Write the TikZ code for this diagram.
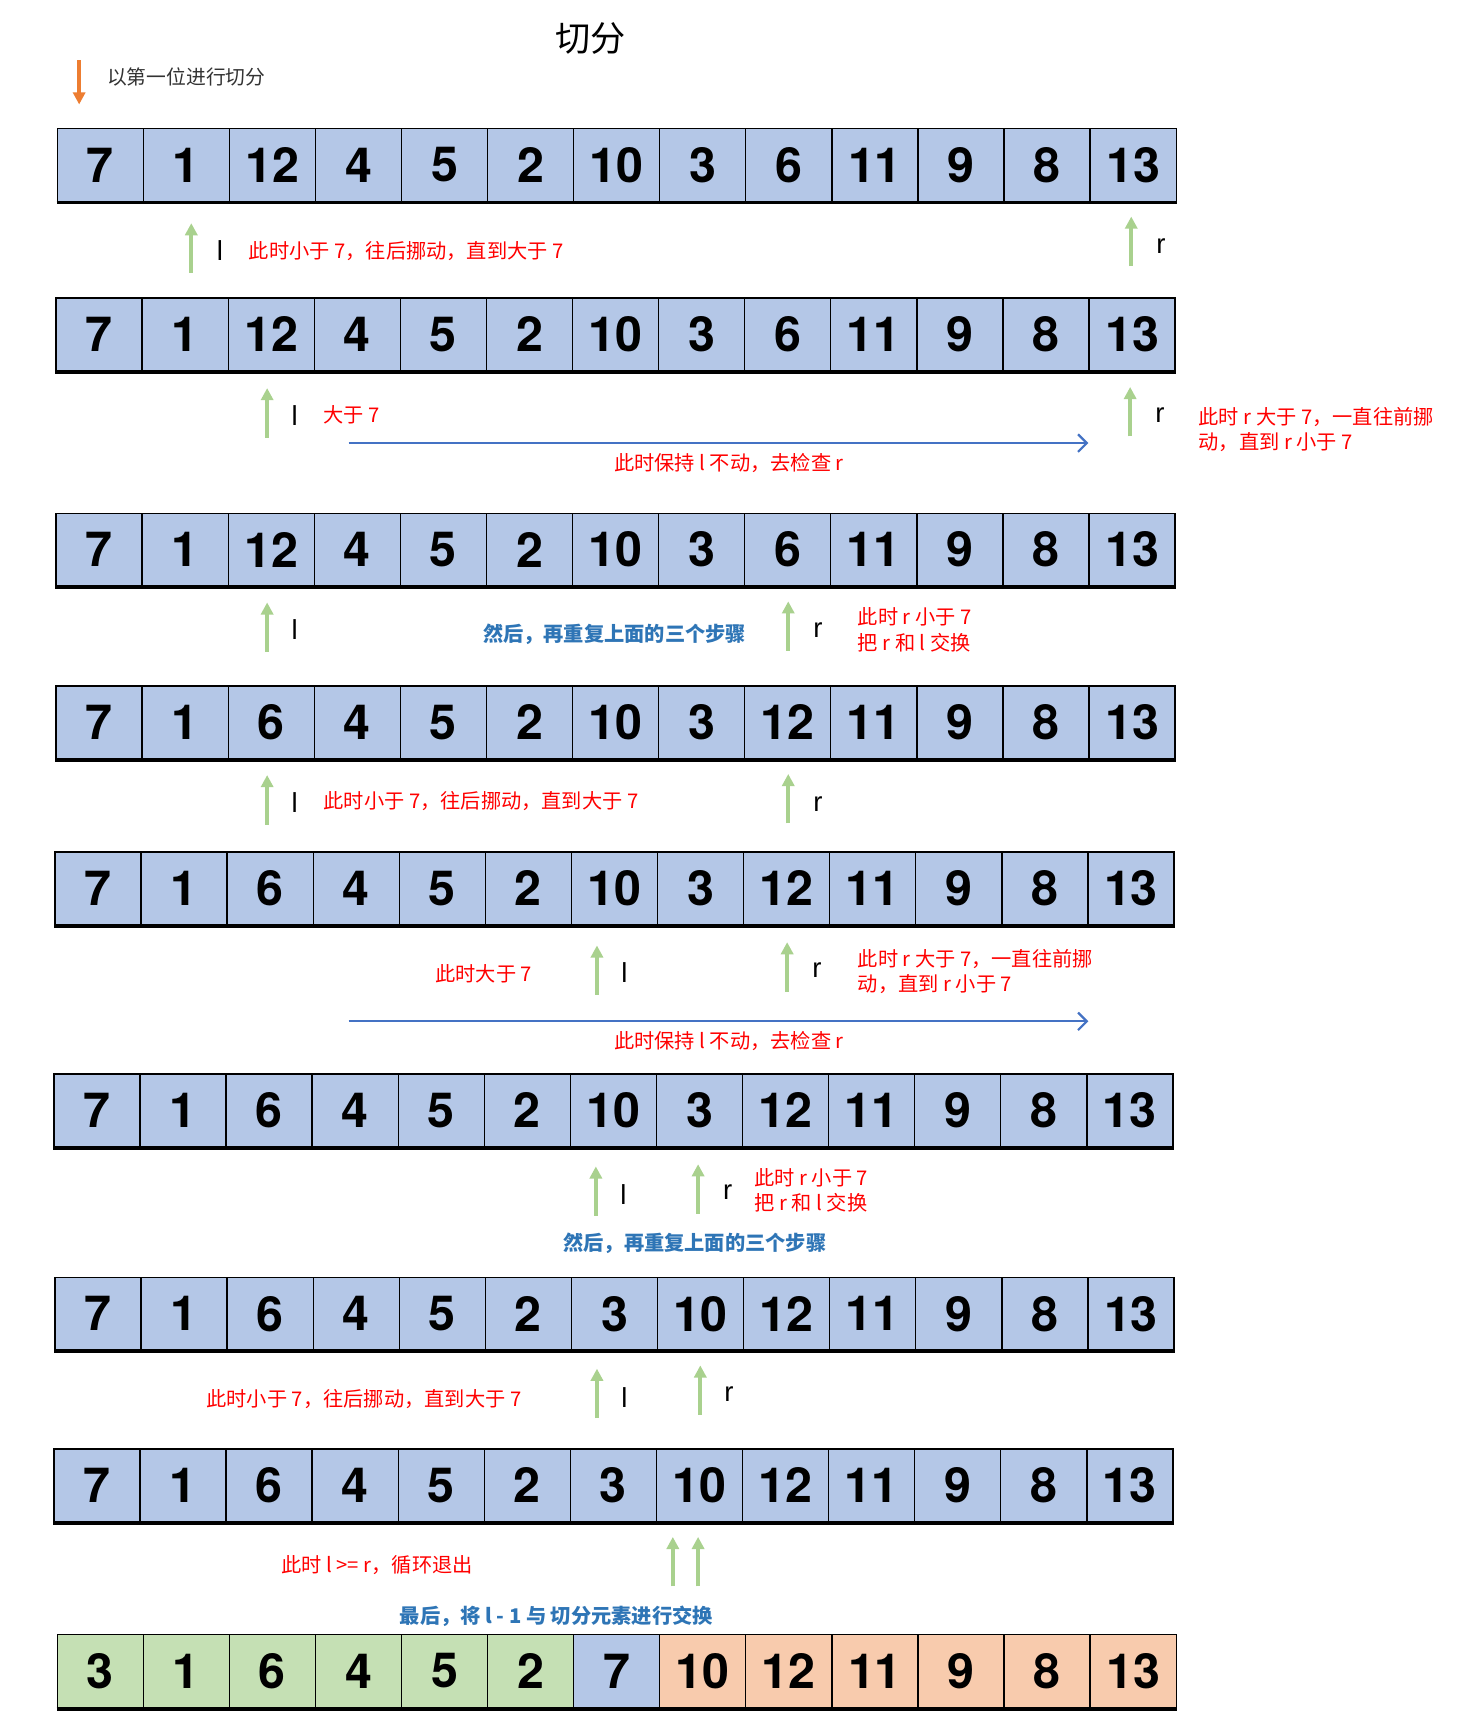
\documentclass[tikz,border=0pt]{standalone}
\usepackage{fontspec}
\setmainfont{Liberation Sans}
\newfontfamily\cjk{Noto Sans CJK SC}
\newfontfamily\digits{TeX Gyre Heros}
\usetikzlibrary{arrows.meta}

\definecolor{cellblue}{HTML}{B4C7E7}
\definecolor{cellgreen}{HTML}{C5E0B4}
\definecolor{cellpeach}{HTML}{F8CBAD}
\definecolor{ptrgreen}{HTML}{A9D18E}
\definecolor{ptrorange}{HTML}{ED7D31}
\definecolor{lineblue}{HTML}{4472C4}
\definecolor{noteblue}{HTML}{2E75B6}

\tikzset{
cell/.style={rectangle,minimum width=39.15pt,minimum height=33pt,inner sep=0pt,draw=black,line width=0.6pt,fill=cellblue,font=\digits\fontsize{22}{24}\selectfont\bfseries},
ptr/.style={draw=ptrgreen,line width=1.75pt,-{Triangle[length=5.5pt,width=5.5pt]}},
ptrlabel/.style={font=\fontsize{12.5}{14}\selectfont,inner sep=0pt},
note/.style={font=\cjk\fontsize{9.2}{11.5}\selectfont,text=red,inner sep=0pt,align=left},
bluenote/.style={font=\cjk\bfseries\fontsize{9.2}{11.5}\selectfont,text=noteblue,inner sep=0pt},
scan/.style={draw=lineblue,line width=1pt,-{Straight Barb[length=4pt,width=8pt]}}
}

\begin{document}
\begin{tikzpicture}[x=0.5pt,y=-0.5pt]
\fill[white] (0,0) rectangle (1330,1570);
\useasboundingbox (0,0) rectangle (1330,1570);

% title and legend
\node[font=\cjk\fontsize{16}{18}\selectfont] (title) at (537,35) {切分};
\coordinate (legb) at (72,55);
\coordinate (lege) at (72,95);
\draw[draw=ptrorange,line width=1.75pt,-{Triangle[length=5.5pt,width=5.5pt]}] (legb) -- (lege);
\node[anchor=west,inner sep=0pt,font=\cjk\fontsize{9}{11}\selectfont,text=black!80] (legend) at (97,70) {以第一位进行切分};

% the arrays
\foreach \row/\xo/\yt/\vals in {
1/52/117/{7,1,12,4,5,2,10,3,6,11,9,8,13},
2/51/271/{7,1,12,4,5,2,10,3,6,11,9,8,13},
3/51/467/{7,1,12,4,5,2,10,3,6,11,9,8,13},
4/51/624/{7,1,6,4,5,2,10,3,12,11,9,8,13},
5/50/775/{7,1,6,4,5,2,10,3,12,11,9,8,13},
6/49/977/{7,1,6,4,5,2,10,3,12,11,9,8,13},
7/50/1162/{7,1,6,4,5,2,3,10,12,11,9,8,13},
8/49/1318/{7,1,6,4,5,2,3,10,12,11,9,8,13}}{
\foreach \v [count=\i from 0] in \vals
\node[cell] (r\row-\i) at (\xo+39.15+\i*78.3,\yt+33) {\v};
\draw[line width=1.5pt] ([yshift=-0.4pt]r\row-0.south west) -- ([yshift=-0.4pt]r\row-12.south east);
}
\foreach \v/\f [count=\i from 0] in {3/cellgreen,1/cellgreen,6/cellgreen,4/cellgreen,5/cellgreen,2/cellgreen,7/cellblue,10/cellpeach,12/cellpeach,11/cellpeach,9/cellpeach,8/cellpeach,13/cellpeach}
\node[cell,fill=\f] (r9-\i) at (52+39.15+\i*78.3,1487+33) {\v};
\draw[line width=1.5pt] ([yshift=-0.4pt]r9-0.south west) -- ([yshift=-0.4pt]r9-12.south east);

% l and r pointers
\foreach \n/\x/\yb in {1l/174/248,1r/1029/242,2l/243/398,2r/1028/397,3l/243/593,3r/717/592,4l/243/750,4r/717/749,5l/543/905,5r/716/902,6l/542/1106,6r/635/1104,7l/543/1290,7r/637/1287,8l/612/1443,8r/635/1443}{
\coordinate (p\n-b) at (\x,\yb);
\coordinate (p\n-t) at (\x,\yb-45);
\draw[ptr] (p\n-b) -- (p\n-t);
}
\node[ptrlabel] (l1) at (200,228) {l};
\node[ptrlabel] (r1) at (1056,224) {r};
\node[ptrlabel] (l2) at (268,378) {l};
\node[ptrlabel] (r2) at (1055,378) {r};
\node[ptrlabel] (l3) at (268,573) {l};
\node[ptrlabel] (r3) at (744,573) {r};
\node[ptrlabel] (l4) at (268,730) {l};
\node[ptrlabel] (r4) at (744,731) {r};
\node[ptrlabel] (l5) at (568,885) {l};
\node[ptrlabel] (r5) at (743,882) {r};
\node[ptrlabel] (l6) at (567,1087) {l};
\node[ptrlabel] (r6) at (662,1084) {r};
\node[ptrlabel] (l7) at (568,1271) {l};
\node[ptrlabel] (r7) at (663,1268) {r};

% scanning arrows
\coordinate (chk1a) at (317,403);
\coordinate (chk1b) at (990,403);
\draw[scan] (chk1a) -- (chk1b);
\coordinate (chk2a) at (317,929);
\coordinate (chk2b) at (990,929);
\draw[scan] (chk2a) -- (chk2b);

% notes
\node[note,anchor=west] (n1) at (226,228) {此时小于 7，往后挪动，直到大于 7};
\node[note,anchor=west] (n2) at (294,377) {大于 7};
\node[note,anchor=west] (n3) at (1090,391) {此时 r 大于 7，一直往前挪\\动，直到 r 小于 7};
\node[note] (n4) at (663,421) {此时保持 l 不动，去检查 r};
\node[bluenote] (n5) at (559,577) {然后，再重复上面的三个步骤};
\node[note,anchor=west] (n6) at (780,573) {此时 r 小于 7\\把 r 和 l 交换};
\node[note,anchor=west] (n7) at (294,729) {此时小于 7，往后挪动，直到大于 7};
\node[note] (n8) at (440,886) {此时大于 7};
\node[note,anchor=west] (n9) at (780,884) {此时 r 大于 7，一直往前挪\\动，直到 r 小于 7};
\node[note] (n10) at (663,947) {此时保持 l 不动，去检查 r};
\node[note,anchor=west] (n11) at (686,1083) {此时 r 小于 7\\把 r 和 l 交换};
\node[bluenote] (n12) at (632,1131) {然后，再重复上面的三个步骤};
\node[note] (n13) at (331,1273) {此时小于 7，往后挪动，直到大于 7};
\node[note] (n14) at (343,1424) {此时 l >= r，循环退出};
\node[bluenote] (n15) at (506,1470) {最后，将 l - 1 与 切分元素进行交换};
\end{tikzpicture}
\end{document}
